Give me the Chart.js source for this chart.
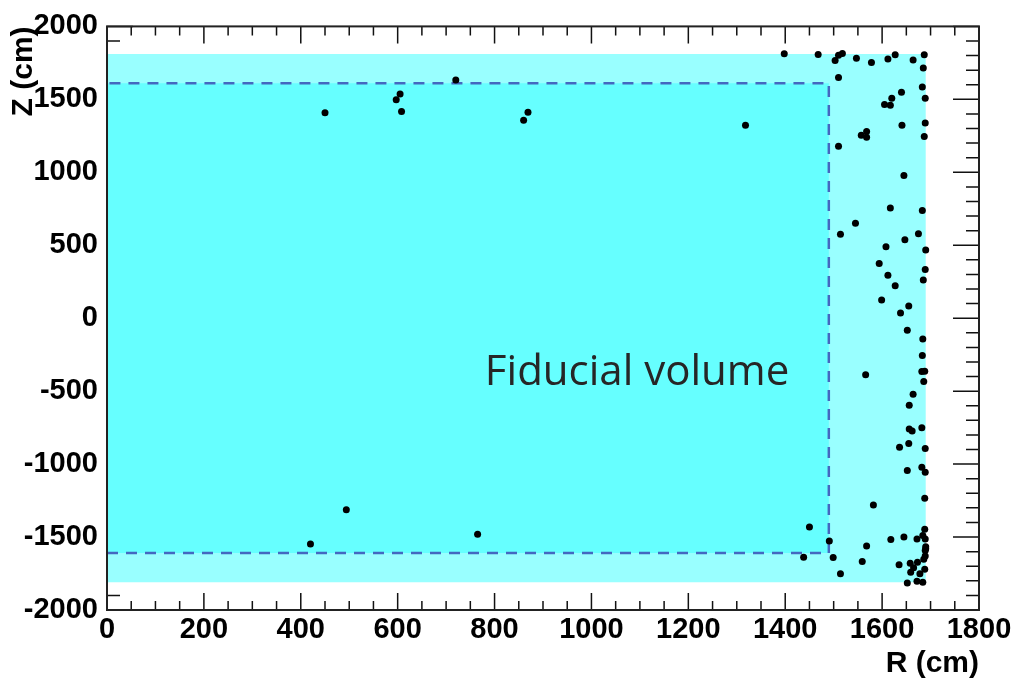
<!DOCTYPE html>
<html>
<head>
<meta charset="utf-8">
<script src="https://cdn.jsdelivr.net/npm/chart.js@4.4.1/dist/chart.umd.min.js"></script>
<style>
  html, body { margin: 0; padding: 0; background: #fff; }
  #wrap { width: 1017px; height: 682px; }
</style>
</head>
<body>
<div id="wrap"><canvas id="chart"></canvas></div>
<script>
// detector regions (cm)
const outerR = 1690;
const outerZ = 1810;
const fiducialR = 1490;
const fiducialZ = 1610;

// event vertices: R (cm), Z (cm)
const pointR = [
  450, 605, 597, 608, 720, 869, 860, 1318, 494, 420, 765,
  1398, 1468, 1510, 1518, 1503, 1547, 1578, 1612, 1627, 1664, 1687, 1685,
  1510, 1683, 1640, 1620, 1605, 1617, 1689, 1641, 1689, 1687, 1557, 1568, 1568, 1510, 1645,
  1617, 1683, 1545, 1514, 1675, 1647, 1608, 1690, 1594, 1689, 1685, 1612, 1627, 1599, 1655, 1638,
  1652, 1684, 1683, 1566, 1682, 1688, 1686, 1664, 1656, 1656, 1662, 1682, 1655, 1636, 1689,
  1652, 1682, 1689, 1688, 1582, 1450, 1491, 1688, 1618, 1645, 1672, 1684, 1689, 1568, 1690,
  1689, 1438, 1499, 1559, 1686, 1635, 1658, 1673, 1665, 1688, 1659, 1678, 1514, 1652, 1672,
  1684, 1690, 1689
];
const pointZ = [
  1408, 1537, 1498, 1417, 1632, 1412, 1356, 1322, -1313, -1548, -1480,
  1812, 1808, 1803, 1815, 1767, 1781, 1752, 1776, 1806, 1769, 1806, 1715,
  1650, 1584, 1548, 1507, 1464, 1460, 1507, 1322, 1338, 1245, 1254, 1279, 1241, 1178, 978,
  755, 739, 651, 576, 578, 538, 490, 468, 375, 334, 262, 294, 222, 124, 83, 36,
  -83, -142, -256, -388, -366, -364, -434, -522, -597, -759, -773, -750, -859, -884, -893,
  -1044, -1022, -1056, -1234, -1281, -1431, -1527, -1446, -1517, -1500, -1514, -1490, -1514, -1561, -1566,
  -1593, -1639, -1641, -1668, -1652, -1690, -1679, -1673, -1711, -1720, -1741, -1751, -1751, -1815, -1803,
  -1810, -1580, -1630
];

// annotation
const labelText = 'Fiducial volume';
const labelR = 780;
const labelZ = -460;

const xMin = 0, xMax = 1800, xStep = 200, xMinorStep = 50;
const yMin = -2000, yMax = 2000, yStep = 500, yMinorStep = 100;

function box(r, z) {
  return [
    { x: 0, y: -z }, { x: r, y: -z }, { x: r, y: z }, { x: 0, y: z }, { x: 0, y: -z }
  ];
}

const points = pointR.map((r, i) => ({ x: r, y: pointZ[i] }));

// ROOT-like frame with inside tick marks
const frameTicks = {
  id: 'frameTicks',
  beforeDatasetsDraw(chart) {
    const { ctx, chartArea: a, scales: { x, y } } = chart;
    ctx.save();
    ctx.strokeStyle = '#111';
    ctx.lineWidth = 1.5;
    ctx.beginPath();
    for (let v = xMin; v <= xMax; v += xMinorStep) {
      const px = x.getPixelForValue(v);
      const len = v % xStep === 0 ? 17 : 9;
      ctx.moveTo(px, a.bottom); ctx.lineTo(px, a.bottom - len);
      ctx.moveTo(px, a.top); ctx.lineTo(px, a.top + len);
    }
    for (let v = yMin; v <= yMax; v += yMinorStep) {
      const py = y.getPixelForValue(v);
      const len = v % yStep === 0 ? 26 : 13;
      ctx.moveTo(a.left, py); ctx.lineTo(a.left + len, py);
      ctx.moveTo(a.right, py); ctx.lineTo(a.right - len, py);
    }
    ctx.stroke();
    ctx.restore();
  },
  afterDatasetsDraw(chart) {
    const { ctx, chartArea: a, scales: { x, y } } = chart;
    ctx.save();
    ctx.strokeStyle = '#222';
    ctx.lineWidth = 2;
    ctx.strokeRect(a.left, a.top, a.right - a.left, a.bottom - a.top);
    ctx.fillStyle = '#262626';
    ctx.font = '42px "Open Sans"';
    ctx.textAlign = 'left';
    ctx.textBaseline = 'alphabetic';
    ctx.fillText(labelText, x.getPixelForValue(labelR), y.getPixelForValue(labelZ));
    ctx.restore();
  }
};

const tickFont = { family: 'Liberation Sans', size: 29, weight: 'bold' };
const titleFont = { family: 'Liberation Sans', size: 30, weight: 'bold' };
const plain = (v) => String(v);

new Chart(document.getElementById('chart'), {
  type: 'scatter',
  data: {
    datasets: [
      {
        label: 'events',
        data: points,
        order: 0,
        pointRadius: 3.5,
        pointBackgroundColor: '#000',
        pointBorderWidth: 0,
        showLine: false
      },
      {
        label: 'fiducial edge',
        data: box(fiducialR, fiducialZ).slice(0, 4),
        order: 1,
        showLine: true,
        borderColor: '#4468c0',
        borderWidth: 2.5,
        borderDash: [11, 8],
        pointRadius: 0,
        fill: false
      },
      {
        label: 'fiducial volume',
        data: box(fiducialR, fiducialZ),
        order: 2,
        showLine: true,
        borderWidth: 0,
        borderColor: 'rgba(0,0,0,0)',
        backgroundColor: '#66ffff',
        pointRadius: 0,
        fill: 'shape'
      },
      {
        label: 'detector',
        data: box(outerR, outerZ),
        order: 3,
        showLine: true,
        borderWidth: 0,
        borderColor: 'rgba(0,0,0,0)',
        backgroundColor: '#99ffff',
        pointRadius: 0,
        fill: 'shape'
      }
    ]
  },
  options: {
    responsive: true,
    maintainAspectRatio: false,
    animation: false,
    layout: { padding: { top: 20, right: 38, left: 0, bottom: 0 } },
    plugins: { legend: { display: false }, tooltip: { enabled: false } },
    scales: {
      x: {
        type: 'linear',
        min: xMin,
        max: xMax,
        grid: { display: false, drawTicks: false },
        border: { display: false },
        ticks: { stepSize: xStep, font: tickFont, color: '#000', padding: 3, maxRotation: 0, callback: plain },
        title: { display: true, text: 'R (cm)', align: 'end', font: titleFont, color: '#000', padding: { top: 0, bottom: 0 } },
        afterFit(scale) { scale.height = 72; }
      },
      y: {
        type: 'linear',
        min: yMin,
        max: yMax,
        grid: { display: false, drawTicks: false },
        border: { display: false },
        ticks: { stepSize: yStep, font: tickFont, color: '#000', padding: 9, callback: plain },
        title: { display: true, text: 'Z (cm)', align: 'end', font: titleFont, color: '#000', padding: { top: 6, bottom: 0 } },
        afterFit(scale) { scale.width = 107; }
      }
    }
  },
  plugins: [frameTicks]
});
</script>
</body>
</html>
